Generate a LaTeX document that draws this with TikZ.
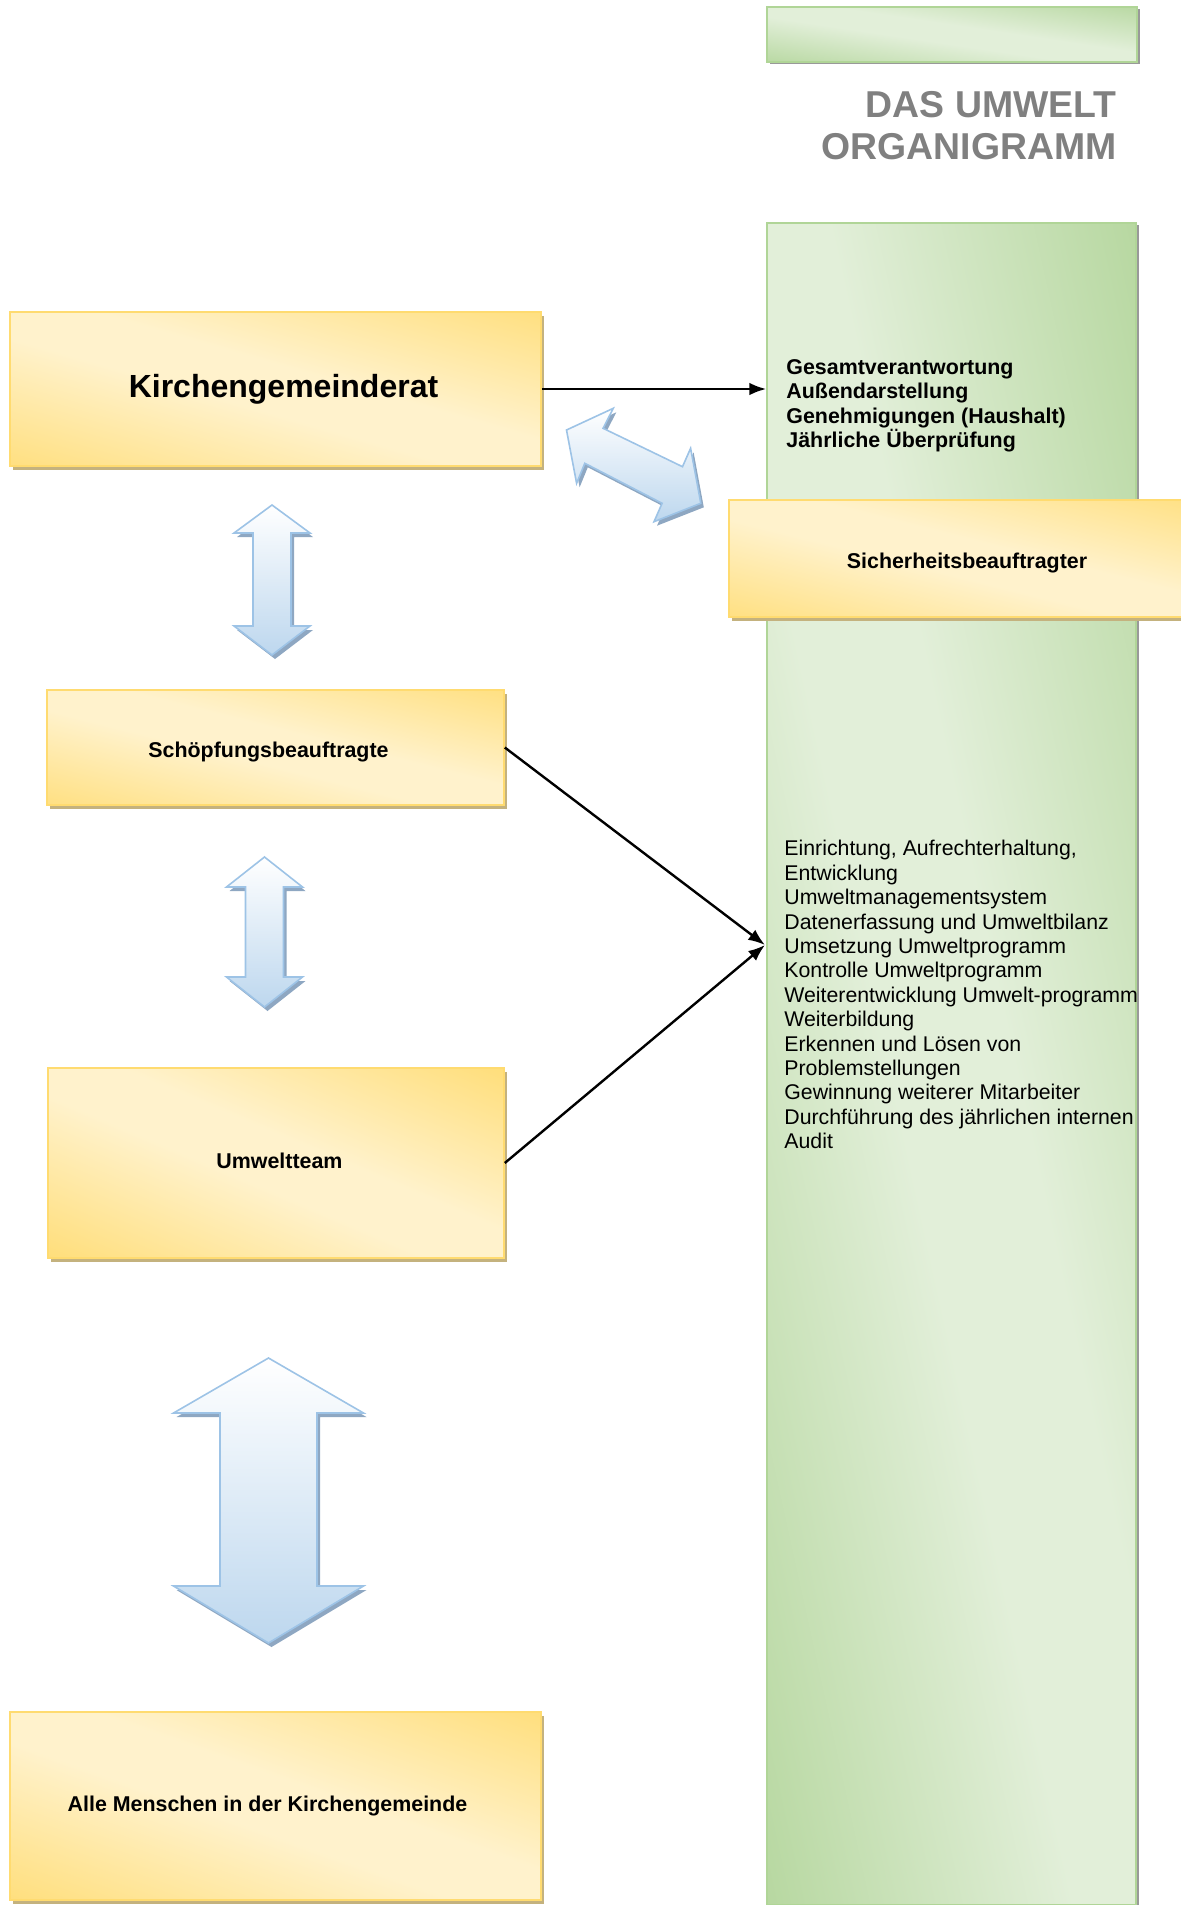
\documentclass[tikz,border=0pt]{standalone}
\usepackage{fontspec}
\setmainfont{Liberation Sans}
\usetikzlibrary{arrows.meta,shadows}

\definecolor{gelbhell}{HTML}{FFF2CC}
\definecolor{gelbdunkel}{HTML}{FFD966}
\definecolor{gelbrand}{HTML}{FFDB70}
\definecolor{schattenbraun}{HTML}{C4B27E}
\definecolor{gruenhell}{HTML}{E2EFD9}
\definecolor{gruendunkel}{HTML}{A9D08E}
\definecolor{gruenrand}{HTML}{B0D597}
\definecolor{blauhell}{HTML}{BDD7EE}
\definecolor{blaurand}{HTML}{9DC3E6}
\definecolor{blauschatten}{HTML}{8EA7C2}
\definecolor{titelgrau}{HTML}{808080}

\pgfdeclareverticalshading{gelbband}{100bp}{color(0bp)=(gelbdunkel); color(10bp)=(gelbdunkel); color(45bp)=(gelbhell); color(55bp)=(gelbhell); color(90bp)=(gelbdunkel); color(100bp)=(gelbdunkel)}
\pgfdeclareverticalshading{gruenband}{100bp}{color(0bp)=(gruendunkel); color(12bp)=(gruendunkel); color(45bp)=(gruenhell); color(55bp)=(gruenhell); color(88bp)=(gruendunkel); color(100bp)=(gruendunkel)}

\begin{document}
\begin{tikzpicture}[x=0.5pt,y=-0.5pt,
  amtbox/.style={draw=gelbrand, line width=0.8pt, shading=gelbband, shading angle=#1,
    drop shadow={shadow xshift=1.5pt,shadow yshift=-2pt,fill=schattenbraun,opacity=1},
    font=\fontsize{10.7}{12.6}\selectfont\bfseries, inner sep=0pt},
  gruenfeld/.style={draw=gruenrand, line width=0.8pt, shading=gruenband, shading angle=#1,
    drop shadow={shadow xshift=1.5pt,shadow yshift=-1pt,fill=gray!80,opacity=1}, inner sep=0pt},
  doppelpfeil/.style={draw=blaurand, line width=0.8pt, top color=white, bottom color=blauhell,
    drop shadow={shadow xshift=1.5pt,shadow yshift=-2pt,fill=blauschatten,opacity=1}},
  pfeil/.style={-{Latex}, line width=1.2pt}]
\useasboundingbox (0,0) rectangle (1181,1905);
%\draw[very thin,color=gray] (0,0) grid[step=100] (1181,1905);
\node[gruenfeld=-8.5, minimum width=185pt, minimum height=27.5pt] (balken) at (952,34.5) {};
\node[gruenfeld=-77.6, minimum width=184.5pt, minimum height=841pt] (leiste) at (951.5,1064) {};
\node[anchor=north east, inner sep=0pt, align=right, text=titelgrau, font=\fontsize{18.7}{21.3}\selectfont\bfseries] (titel) at (1117,90.5) {DAS UMWELT\\ORGANIGRAMM};
\node[anchor=north west, inner sep=0pt, align=left, font=\fontsize{10.7}{12.2}\selectfont\bfseries] (aufgabenkgr) at (786,359) {Gesamtverantwortung\\Außendarstellung\\Genehmigungen (Haushalt)\\Jährliche Überprüfung};
\node[anchor=north west, inner sep=0pt, align=left, font=\fontsize{10.65}{12.2}\selectfont] (aufgabenteam) at (784,840) {Einrichtung, Aufrechterhaltung,\\Entwicklung\\Umweltmanagementsystem\\Datenerfassung und Umweltbilanz\\Umsetzung Umweltprogramm\\Kontrolle Umweltprogramm\\Weiterentwicklung Umwelt-programm\\Weiterbildung\\Erkennen und Lösen von\\Problemstellungen\\Gewinnung weiterer Mitarbeiter\\Durchführung des jährlichen internen\\Audit};
\node[amtbox=-16, minimum width=265.5pt, minimum height=77pt, font=\fontsize{16}{19}\selectfont\bfseries] (kgr) at (275.5,389) {\hspace*{8pt}Kirchengemeinderat};
\node[amtbox=-14, minimum width=238pt, minimum height=58.5pt, text height=12.7pt] (sicher) at (967,558.5) {Sicherheitsbeauftragter};
\node[amtbox=-14, minimum width=228.5pt, minimum height=57.5pt, text height=12.7pt] (schoepf) at (275.5,747.5) {Schöpfungsbeauftragte\hspace*{7pt}};
\node[amtbox=-23, minimum width=228pt, minimum height=95pt, text depth=2pt] (team) at (276,1163) {\hspace*{3.5pt}Umweltteam};
\node[amtbox=-19.5, minimum width=265.5pt, minimum height=94pt] (alle) at (275.5,1806) {Alle Menschen in der Kirchengemeinde\hspace*{8pt}};
\draw[pfeil] (kgr.east) -- (kgr.east -| leiste.west);
\coordinate (ziel) at (765,945);
\draw[pfeil] (schoepf.east) -- (ziel);
\draw[pfeil] (team.east) -- (ziel);
\draw[doppelpfeil] (566.5,430) -- (613.3,408.3) -- (603.1,428.3) -- (682.5,466.7) -- (690.6,448.3) -- (700.8,503.3) -- (654,521.7) -- (662.1,503.3) -- (584.8,463.3) -- (576.6,483.3) -- cycle;
\draw[doppelpfeil] (272,505) -- (310,533) -- (291,533) -- (291,626) -- (310,626) -- (272,655) -- (234,626) -- (253,626) -- (253,533) -- (234,533) -- cycle;
\draw[doppelpfeil] (264.5,857) -- (302.5,887) -- (283.5,887) -- (283.5,977) -- (302.5,977) -- (264.5,1007) -- (226.5,977) -- (245.5,977) -- (245.5,887) -- (226.5,887) -- cycle;
\draw[doppelpfeil] (268.5,1358) -- (363.5,1413) -- (317,1413) -- (317,1586) -- (363.5,1586) -- (268.5,1643) -- (173.5,1586) -- (220,1586) -- (220,1413) -- (173.5,1413) -- cycle;
\end{tikzpicture}
\end{document}
